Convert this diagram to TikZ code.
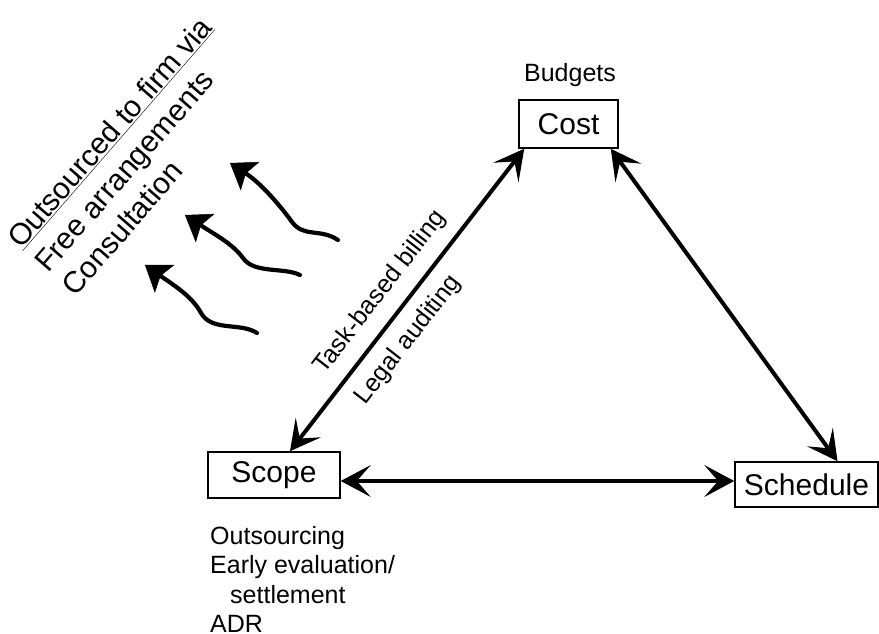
\documentclass[tikz,border=0pt]{standalone}
\usepackage{fontspec}
\setmainfont{Liberation Sans}
\usetikzlibrary{arrows.meta,calc}
\begin{document}
\begin{tikzpicture}[x=1pt,y=-1pt,
  box/.style={draw, line width=1.6pt, inner sep=0pt, font=\fontsize{30}{36}\selectfont},
  barb/.tip={Stealth[length=30pt,width=32pt,inset=14pt,line width=1pt]},
  dbl/.style={line width=4pt, barb-barb},
  wave/.style={line width=4.2pt, line cap=round, -{Stealth[length=24pt,width=34pt,inset=5pt,line width=0.5pt]}},
  lbl/.style={font=\fontsize{25}{29.5}\selectfont},
  big/.style={font=\fontsize{30}{36}\selectfont, rotate=49, anchor=base west, inner sep=0pt}]
\useasboundingbox (0,0) rectangle (879,634);
\fill[white] (0,0) rectangle (879,634);

% the three corners of the triangle
\node[box, minimum width=99pt, minimum height=48pt] (cost) at (568.5,124) {Cost};
\node[box, minimum width=132pt, minimum height=46pt] (scope) at (274,475) {Scope};
\node[box, minimum width=143pt, minimum height=45pt] (sched) at (806.5,484.5) {Schedule};

\node[lbl, anchor=base] (bud) at (570,82) {Budgets};
\node[lbl, anchor=north west, inner sep=0pt, align=left] (scopelist) at (210,526)
  {Outsourcing\\Early evaluation/\\\hspace*{0.8em}settlement\\ADR};

% sides of the triangle
\draw[dbl] ($(cost.south west)+(6,0)$) --
  node[lbl, sloped, pos=0.527, above, inner sep=12pt] (tbb) {Task-based billing}
  node[lbl, sloped, pos=0.581, below, inner sep=12pt] (aud) {Legal auditing}
  ($(scope.north)+(16,0)$);
\draw[dbl] ($(cost.south east)+(-8,0)$) -- ($(sched.north)+(31,0)$);
\draw[dbl] ($(scope.east)+(0,6)$) -- ($(sched.west)+(0,-3.5)$);

% wavy arrows
\draw[wave] (338,240) .. controls (320,228) and (304,238) .. (292,222)
  .. controls (282,208) and (262,184) .. (230,163);
\draw[wave] (300,275) .. controls (284,267) and (254,274) .. (243,258)
  .. controls (233,244) and (214,234) .. (185,215);
\draw[wave] (257,333) .. controls (240,322) and (212,332) .. (201,313)
  .. controls (192,296) and (172,284) .. (145,265);

% slanted list
\node[big] (o1) at (21,250) {\underline{Outsourced to firm via}};
\node[big] (o2) at (48,274) {Free arrangements};
\node[big] (o3) at (75,298) {Consultation};
\end{tikzpicture}
\end{document}
